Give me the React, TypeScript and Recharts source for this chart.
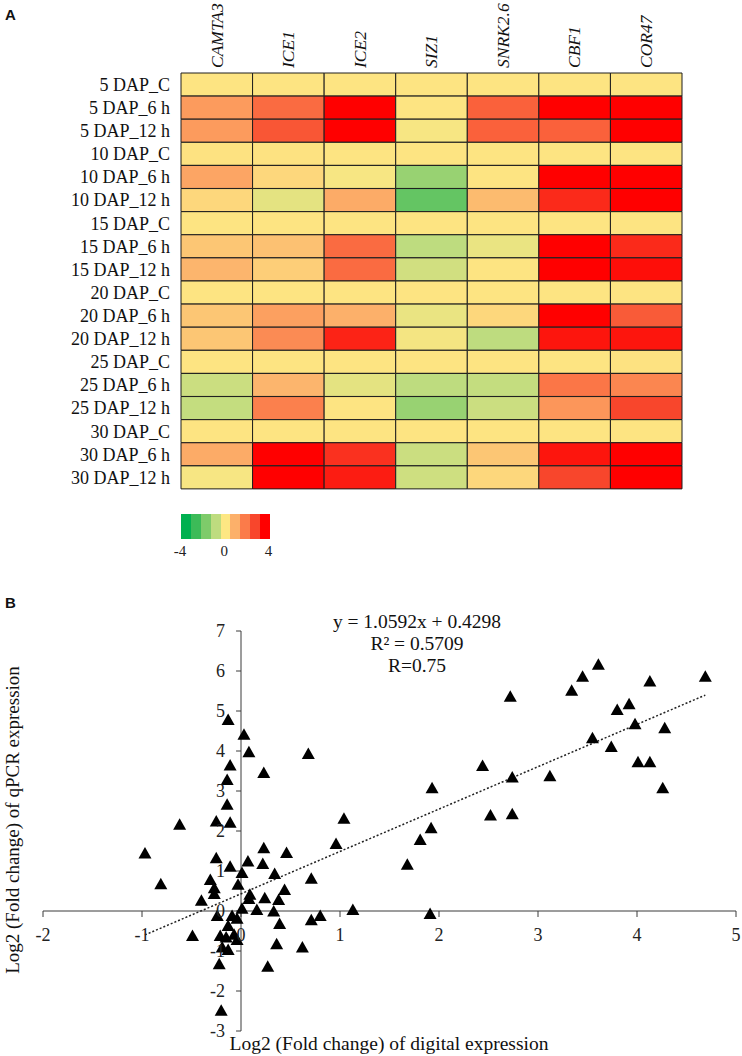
import React from "react";
import {
  BarChart,
  Bar,
  Cell,
  XAxis,
  YAxis,
  ScatterChart,
  Scatter,
  ReferenceLine,
} from "recharts";

const SERIF = "'Liberation Serif', 'Times New Roman', Times, serif";
const SANS = "'Liberation Sans', Arial, sans-serif";

// ---- panel A: heatmap ----
const rowLabels = [
  "5 DAP_C", "5 DAP_6 h", "5 DAP_12 h",
  "10 DAP_C", "10 DAP_6 h", "10 DAP_12 h",
  "15 DAP_C", "15 DAP_6 h", "15 DAP_12 h",
  "20 DAP_C", "20 DAP_6 h", "20 DAP_12 h",
  "25 DAP_C", "25 DAP_6 h", "25 DAP_12 h",
  "30 DAP_C", "30 DAP_6 h", "30 DAP_12 h",
];
const genes = ["CAMTA3", "ICE1", "ICE2", "SIZ1", "SNRK2.6", "CBF1", "COR47"];

const camta3 = [0.05, 1.4, 1.4, 0.1, 1.2, 0.3, 0.05, 0.6, 0.9, 0.05, 0.6, 0.6, 0.05, -0.8, -0.9, 0.05, 1.1, -0.1];
const ice1 = [0.05, 2.3, 2.7, 0.1, 0.3, -0.4, 0.05, 0.7, 0.45, 0.05, 1.3, 1.7, 0.05, 0.9, 1.9, 0.05, 4, 4];
const ice2 = [0.05, 4, 4, 0.05, -0.1, 1.1, 0.05, 2.3, 2.3, 0.05, 1.0, 3.5, 0.05, -0.4, 0.05, 0.05, 3.3, 3.6];
const siz1 = [0.05, 0.05, -0.1, 0.05, -1.6, -2.4, 0.05, -1.0, -0.7, 0.05, -0.3, -0.15, 0.05, -1.0, -1.6, 0.05, -0.8, -0.75];
const snrk26 = [0.05, 2.5, 2.5, 0.05, 0.05, 0.8, 0.05, -0.3, 0.05, 0.05, 0.3, -1.0, 0.05, -0.9, -0.8, 0.05, 0.6, 0.3];
const cbf1 = [0.05, 4, 2.5, 0.05, 4, 3.4, 0.05, 4, 4, 0.05, 4, 3.7, 0.05, 2.1, 1.5, 0.05, 3.7, 3.0];
const cor47 = [0.05, 4, 4, 0.05, 4, 4, 0.05, 3.4, 3.8, 0.05, 2.6, 3.7, 0.1, 1.8, 3.0, 0.05, 4, 4];
const geneValues = [camta3, ice1, ice2, siz1, snrk26, cbf1, cor47];

// colour key, -4 .. 4
const legendColors = ["#00b050", "#3cbb58", "#7ecb6a", "#bedc7f", "#fde783", "#fcb06a", "#fb7b4a", "#f8462c", "#ff0000"];
const legendLabels = ["-4", "0", "4"];

function hexToRgb(h: string) {
  return [1, 3, 5].map((i) => parseInt(h.slice(i, i + 2), 16));
}
function heatColor(v: number) {
  const p = Math.max(0, Math.min(8, v + 4));
  const i = Math.min(7, Math.floor(p));
  const t = p - i;
  const a = hexToRgb(legendColors[i]);
  const b = hexToRgb(legendColors[i + 1]);
  const c = a.map((x, k) => Math.round(x + (b[k] - x) * t));
  return `rgb(${c[0]},${c[1]},${c[2]})`;
}

const heatRows = rowLabels.map((row) => {
  const r: Record<string, any> = { row };
  genes.forEach((g) => (r[g] = 1));
  return r;
});

const GeneTick = (props: any) => {
  const { x, y, payload } = props;
  const name = genes[Math.floor(payload.value)];
  return (
    <text
      transform={`translate(${x},${y}) rotate(-90)`}
      textAnchor="start"
      dy="0.33em"
      fontFamily={SERIF}
      fontStyle="italic"
      fontSize={17.5}
      fill="#111"
    >
      {name}
    </text>
  );
};

const RowTick = (props: any) => {
  const { x, y, payload } = props;
  return (
    <text x={x} y={y} dy="0.35em" textAnchor="end" fontFamily={SERIF} fontSize={18} fill="#111">
      {payload.value}
    </text>
  );
};

// ---- panel B: scatter ----
const digitalExpr = [
  3.61, 3.45, 3.34, 2.72, 4.13, 4.69, 3.92, 3.80, 3.98, 4.28, 3.55, 3.74, 4.01, 4.13, 4.26,
  2.44, 2.74, 3.12, 1.93, 2.52, 2.74, 1.92, 1.81, 1.68, 1.91,
  -0.13, 0.03, 0.08, 0.68, -0.11, 0.23, -0.14, -0.14, -0.25, -0.11, -0.62, 1.04, 0.96, -0.97,
  0.23, 0.46, -0.25, 0.07, 0.22, -0.11, 0.01, 0.34, 0.71, -0.31, -0.81, -0.27, -0.03, 0.44,
  -0.27, 0.09, 0.08, 0.24, 0.38, -0.40, 0.01, 0.16, 0.33, -0.24, -0.09, -0.04, 1.13, 0.80,
  0.71, 0.39, -0.13, -0.49, -0.21, -0.07, -0.15, -0.04, 0.36, 0.62, -0.19, -0.13, -0.22, 0.27, -0.20,
];
const qpcrExpr = [
  6.17, 5.87, 5.52, 5.37, 5.75, 5.87, 5.18, 5.04, 4.68, 4.58, 4.33, 4.11, 3.73, 3.73, 3.08,
  3.64, 3.35, 3.38, 3.08, 2.40, 2.43, 2.08, 1.79, 1.17, -0.06,
  4.79, 4.42, 3.98, 3.94, 3.65, 3.46, 3.29, 2.67, 2.25, 2.22, 2.17, 2.32, 1.69, 1.45,
  1.58, 1.46, 1.33, 1.25, 1.19, 1.12, 0.96, 0.94, 0.82, 0.79, 0.68, 0.58, 0.67, 0.54,
  0.44, 0.42, 0.31, 0.33, 0.29, 0.27, 0.07, 0.04, 0.00, -0.11, -0.11, -0.18, 0.04, -0.11,
  -0.22, -0.31, -0.36, -0.61, -0.61, -0.58, -0.65, -0.71, -0.82, -0.90, -0.90, -0.96, -1.32, -1.38, -2.48,
];
const points = digitalExpr.map((x, i) => ({ x, y: qpcrExpr[i] }));

const xTicks = [-2, -1, 0, 1, 2, 3, 4, 5];
const yTicks = [-3, -2, -1, 0, 1, 2, 3, 4, 5, 6, 7];
const slope = 1.0592;
const intercept = 0.4298;
const fitLines = ["y = 1.0592x + 0.4298", "R² = 0.5709", "R=0.75"];

const xMin = Math.min(...digitalExpr);
const xMax = Math.max(...digitalExpr);
const trend = [
  { x: xMin, y: slope * xMin + intercept },
  { x: xMax, y: slope * xMax + intercept },
];

const Tri = (props: any) => {
  const { cx, cy } = props;
  return <path d={`M${cx},${cy - 6}L${cx + 6.5},${cy + 5.5}L${cx - 6.5},${cy + 5.5}Z`} fill="#000" />;
};

const AXIS = "#3a3a3a";
const tickLabel = { fontFamily: SERIF, fontSize: 18, fill: "#222" };

export default function App() {
  return (
    <div style={{ position: "absolute", left: 0, top: 0, width: 742, height: 1056, background: "#fff" }}>
      <div style={{ position: "absolute", left: 0, top: 0 }}>
        <BarChart
          width={742}
          height={500}
          data={heatRows}
          layout="vertical"
          barCategoryGap={0}
          barGap={0}
          margin={{ top: 0, right: 60, bottom: 11, left: 0 }}
        >
          <XAxis
            type="number"
            orientation="top"
            domain={[0, genes.length]}
            ticks={genes.map((_, i) => i + 0.5)}
            interval={0}
            height={73}
            axisLine={false}
            tickLine={false}
            tickSize={0}
            tickMargin={5}
            tick={<GeneTick />}
          />
          <YAxis
            type="category"
            dataKey="row"
            width={181}
            axisLine={false}
            tickLine={false}
            tickSize={0}
            tickMargin={11}
            interval={0}
            tick={<RowTick />}
          />
          {genes.map((g, gi) => (
            <Bar key={g} dataKey={g} stackId="s" stroke="#1e1e1e" strokeWidth={1} isAnimationActive={false}>
              {rowLabels.map((r, ri) => (
                <Cell key={r} fill={heatColor(geneValues[gi][ri])} />
              ))}
            </Bar>
          ))}
        </BarChart>
      </div>

      <div style={{ position: "absolute", left: 181, top: 514, display: "flex" }}>
        {legendColors.map((c) => (
          <div key={c} style={{ width: 9.9, height: 25, background: c }} />
        ))}
      </div>

      <div style={{ position: "absolute", left: 0, top: 580 }}>
        <ScatterChart width={742} height={476} margin={{ top: 51, right: 6, bottom: 25, left: 43 }}>
          <XAxis type="number" dataKey="x" domain={[-2, 5]} allowDataOverflow hide />
          <YAxis type="number" dataKey="y" domain={[-3, 7]} allowDataOverflow hide />
          <ReferenceLine y={0} stroke={AXIS} strokeWidth={1} />
          <ReferenceLine x={0} stroke={AXIS} strokeWidth={1} />
          {xTicks.map((t) => (
            <ReferenceLine
              key={"x" + t}
              segment={[{ x: t, y: 0 }, { x: t, y: -0.15 }]}
              stroke={AXIS}
              label={{ value: String(t), position: "bottom", offset: 11, ...tickLabel }}
            />
          ))}
          {yTicks.map((t) => (
            <ReferenceLine
              key={"y" + t}
              segment={[{ x: 0, y: t }, { x: -0.05, y: t }]}
              stroke={AXIS}
              label={{ value: String(t), position: "left", offset: 11, ...tickLabel }}
            />
          ))}
          <ReferenceLine segment={trend} stroke="#222" strokeWidth={1.5} strokeDasharray="2 2" />
          <Scatter data={points} shape={<Tri />} isAnimationActive={false} />
        </ScatterChart>
      </div>

      <svg
        width={742}
        height={1056}
        style={{ position: "absolute", left: 0, top: 0, pointerEvents: "none" }}
      >
        <text x={5} y={20} fontFamily={SANS} fontWeight="bold" fontSize={15} fill="#111">A</text>
        <text x={5} y={608} fontFamily={SANS} fontWeight="bold" fontSize={15} fill="#111">B</text>
        {legendLabels.map((l, i) => (
          <text key={l} x={180 + i * 44.3} y={551} dy="0.35em" textAnchor="middle" fontFamily={SERIF} fontSize={15} fill="#222">
            {l}
          </text>
        ))}
        {fitLines.map((l, i) => (
          <text key={l} x={417} y={621 + i * 22} dy="0.35em" textAnchor="middle" fontFamily={SERIF} fontSize={19.5} fill="#111">
            {l}
          </text>
        ))}
        <text
          transform="translate(12,820) rotate(-90)"
          dy="0.35em"
          textAnchor="middle"
          fontFamily={SERIF}
          fontSize={19}
          fill="#111"
        >
          Log2 (Fold change) of qPCR expression
        </text>
        <text x={389} y={1043} dy="0.35em" textAnchor="middle" fontFamily={SERIF} fontSize={19.5} fill="#111">
          Log2 (Fold change) of digital expression
        </text>
      </svg>
    </div>
  );
}
